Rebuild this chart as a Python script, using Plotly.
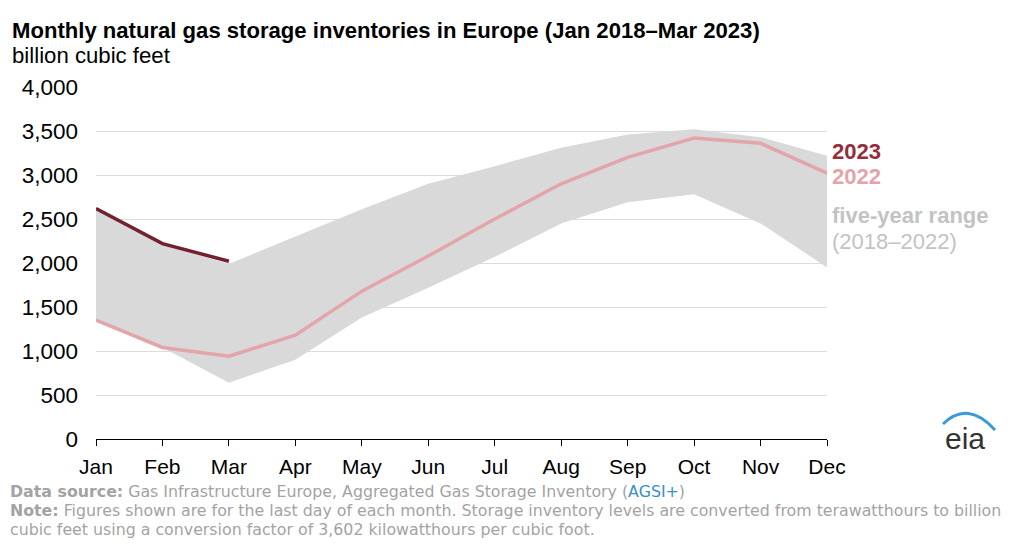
import plotly.graph_objects as go

months = ["Jan", "Feb", "Mar", "Apr", "May", "Jun",
          "Jul", "Aug", "Sep", "Oct", "Nov", "Dec"]

range_high = [2610, 2210, 1990, 2300, 2610, 2900, 3100, 3310, 3460, 3520, 3430, 3220]
range_low = [1350, 1040, 640, 900, 1380, 1720, 2070, 2450, 2690, 2780, 2450, 1950]
inv_2022 = [1350, 1040, 940, 1180, 1680, 2080, 2500, 2900, 3200, 3420, 3360, 3020]
inv_2023 = [2620, 2220, 2020]

y_ticks = [0, 500, 1000, 1500, 2000, 2500, 3000, 3500, 4000]

FONT = "Liberation Sans, Arial, sans-serif"
NOTE_FONT = "DejaVu Sans, sans-serif"
# page body has an 8px margin, so the figure is drawn 8px in
OFF = 8
W, H = 1024 - 2 * OFF, 546 - 2 * OFF
L, R, T, B = 96 - OFF, 827 - OFF, 87 - OFF, 439 - OFF


def px(x, y):
    # screen pixel position (reference) -> paper coords
    return (x - OFF - L) / (R - L), (B - (y - OFF)) / (B - T)


def main():
    fig = go.Figure()

    fig.add_trace(go.Scatter(
        x=months, y=range_low, mode="lines",
        line=dict(width=0, color="#d9d9d9"),
        hoverinfo="skip", showlegend=False
    ))
    fig.add_trace(go.Scatter(
        x=months, y=range_high, mode="lines",
        line=dict(width=0, color="#d9d9d9"),
        fill="tonexty", fillcolor="#d9d9d9",
        showlegend=False
    ))
    fig.add_trace(go.Scatter(
        x=months, y=inv_2022, mode="lines",
        line=dict(width=3.5, color="#e3a5aa"),
        showlegend=False
    ))
    fig.add_trace(go.Scatter(
        x=months[:len(inv_2023)], y=inv_2023, mode="lines",
        line=dict(width=3.5, color="#72212e"),
        showlegend=False
    ))

    fig.update_xaxes(
        type="category",
        range=[0, 11],
        showgrid=False,
        showline=True,
        linecolor="black",
        linewidth=1,
        ticks="outside",
        ticklen=6,
        tickcolor="black",
        ticklabelstandoff=3,
        tickfont=dict(size=21, color="black"),
    )
    fig.update_yaxes(
        range=[0, 4000],
        tickvals=y_ticks,
        tickformat=",",
        showgrid=True,
        gridcolor="#dcdcdc",
        gridwidth=1,
        zeroline=False,
        ticks="",
        ticklabelstandoff=17,
        tickfont=dict(size=22.5, color="black"),
    )

    notes = []

    def text(s, x, y, size, color, family=FONT, xanchor="left", yanchor="middle"):
        ax, ay = px(x, y)
        notes.append(dict(
            text=s, x=ax, y=ay, xref="paper", yref="paper",
            xanchor=xanchor, yanchor=yanchor, showarrow=False,
            borderpad=0,
            font=dict(family=family, size=size, color=color)
        ))

    text("<b>Monthly natural gas storage inventories in Europe (Jan 2018\u2013Mar 2023)</b>",
         11, 30, 22.1, "black")
    text("billion cubic feet", 11, 55, 22.2, "black")

    text("<b>2023</b>", 831, 151, 22, "#952d3b")
    text("<b>2022</b>", 831, 176, 22, "#e3a5aa")
    text("<b>five-year range</b>", 831, 215, 22, "#c3c3c3")
    text("(2018\u20132022)", 831, 241, 22, "#c3c3c3")

    grey = "#a3a3a3"
    text("<b>Data source:</b> Gas Infrastructure Europe, Aggregated Gas Storage Inventory "
         "(<span style='color:#3a8ecb'>AGSI+</span>)", 9, 491, 15.8, grey, NOTE_FONT)
    text("<b>Note:</b> Figures shown are for the last day of each month. Storage inventory "
         "levels are converted from terawatthours to billion", 9, 510, 15.8, grey, NOTE_FONT)
    text("cubic feet using a conversion factor of 3,602 kilowatthours per cubic foot.",
         9, 529, 15.8, grey, NOTE_FONT)

    text("eia", 965, 438, 30, "#333333", xanchor="center")

    # eia logo swoosh
    x0, y0 = px(943, 424)
    cx, cy = px(968, 400)
    x1, y1 = px(995, 430)
    fig.add_shape(
        type="path", xref="paper", yref="paper",
        path=f"M {x0},{y0} Q {cx},{cy} {x1},{y1}",
        line=dict(color="#3a9ad9", width=3)
    )

    fig.update_layout(
        width=W, height=H,
        annotations=notes,
        font=dict(family=FONT, color="black"),
        plot_bgcolor="white",
        paper_bgcolor="white",
        margin=dict(l=L, r=W - R, t=T, b=H - B),
        showlegend=False,
    )

    fig.write_html("out.html")


if __name__ == "__main__":
    main()
